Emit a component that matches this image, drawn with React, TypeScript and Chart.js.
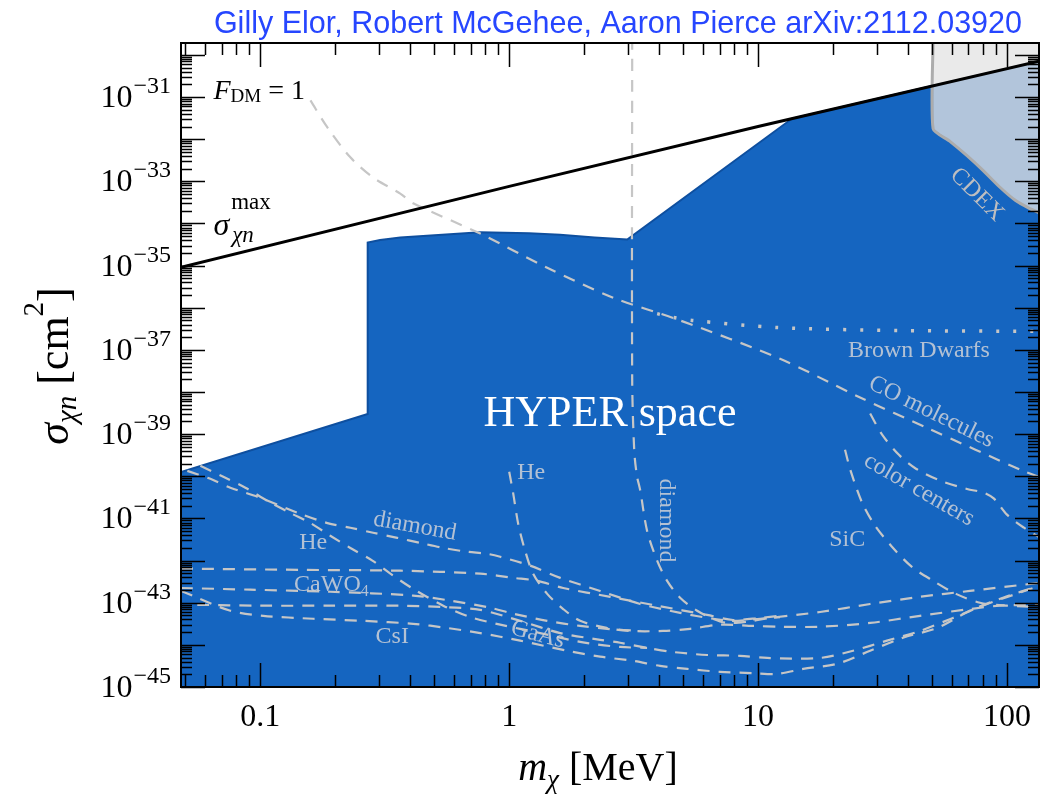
import React, { useEffect, useRef } from 'react';
import { Chart, registerables } from 'chart.js';

Chart.register(...registerables);

// ---------- axis ranges ----------
const X_MIN = 0.048;
const X_MAX = 134.5;
const Y_MIN = 1e-45;
const Y_MAX = 1.92e-30;

// ---------- tick labels ----------
const xTickValues = [0.1, 1, 10, 100];
const xTickLabels = ['0.1', '1', '10', '100'];
const yTickExponents = [-31, -33, -35, -37, -39, -41, -43, -45];

const titleText = 'Gilly Elor, Robert McGehee, Aaron Pierce arXiv:2112.03920';

// ---------- data: x = m_chi [MeV], e = log10(sigma [cm^2]) ----------
const sigmaMaxX = [0.048, 1, 10, 134.5];
const sigmaMaxE = [-35.04, -33.12, -31.7, -30.15];

const hyperX = [0.048, 0.048, 0.27, 0.27, 0.303, 0.365, 0.765, 1.2, 1.6, 2.2, 2.98, 13.7, 50.5, 134.5, 134.5];
const hyperE = [-45, -39.9, -38.52, -34.45, -34.39, -34.33, -34.21, -34.23, -34.27, -34.33, -34.38, -31.51, -30.73, -30.15, -45];

const cdexX = [50.5, 50.5, 59, 69.1, 80.1, 93.7, 108, 123, 134.5, 134.5];
const cdexE = [-29.6, -31.75, -32.05, -32.39, -32.74, -33.14, -33.45, -33.64, -33.74, -29.6];

const cdexEdgeX = [50.5, 50.5, 59, 69.1, 80.1, 93.7, 108, 123, 134.5];
const cdexEdgeE = [-29.6, -31.75, -32.05, -32.39, -32.74, -33.14, -33.45, -33.64, -33.74];

const fdmX = [0.159, 0.186, 0.23, 0.284, 0.365, 0.411, 0.765, 1.421, 2.616, 4.86, 12.25, 25.7, 47.7, 115.9, 134.5];
const fdmE = [-31.08, -31.72, -32.43, -32.91, -33.29, -33.52, -34.24, -35.05, -35.76, -36.3, -37.21, -38.13, -38.85, -39.87, -40.01];

const brownX = [3.93, 4.56, 5.43, 12.03, 37.2, 134.5];
const brownE = [-36.14, -36.23, -36.3, -36.47, -36.54, -36.56];

const diamondX = [3.12, 3.12, 3.18, 3.26, 3.36, 3.58, 3.93, 4.31, 4.86, 5.69, 6.59, 7.51, 9.03, 11.17, 17.75, 28.2, 44.7, 71.0, 134.5];
const diamondE = [-29.6, -37.73, -39.39, -39.99, -40.33, -41.29, -42.0, -42.48, -42.88, -43.19, -43.38, -43.48, -43.45, -43.36, -43.22, -43.03, -42.86, -42.72, -42.53];

const heX = [1.0, 1.038, 1.087, 1.159, 1.248, 1.421, 1.648, 1.928, 2.475, 3.06, 4.15, 5.33, 7.04, 9.55, 12.25, 17.75, 28.2, 44.7, 71.0, 93.7, 134.5];
const heE = [-39.89, -40.41, -41.13, -41.77, -42.31, -42.79, -43.15, -43.43, -43.6, -43.67, -43.67, -43.62, -43.52, -43.55, -43.57, -43.57, -43.48, -43.31, -43.15, -43.07, -43.05];

const sicX = [22.35, 23.6, 26.2, 29.5, 34.5, 41.5, 50.5, 62.4, 77.9, 100, 134.5];
const sicE = [-39.37, -39.89, -40.63, -41.17, -41.67, -42.15, -42.48, -42.79, -43.0, -43.07, -43.1];

const colorCentersX = [28.2, 31.5, 36.8, 43.1, 53.8, 69.1, 80.9, 88.7, 100, 117, 134.5];
const colorCentersE = [-38.51, -39.01, -39.49, -39.82, -40.1, -40.3, -40.39, -40.53, -40.91, -41.22, -41.44];

const diamondLowX = [0.0509, 0.063, 0.0758, 0.1, 0.1448, 0.186, 0.23, 0.284, 0.355, 0.439, 0.543, 0.678, 0.816, 0.92, 1.214, 1.603, 2.32, 3.36, 4.86, 6.59, 7.94, 10.19, 12.25];
const diamondLowE = [-39.87, -40.06, -40.27, -40.51, -40.89, -41.11, -41.22, -41.34, -41.46, -41.58, -41.7, -41.79, -41.84, -41.91, -42.12, -42.41, -42.72, -43.03, -43.24, -43.38, -43.43, -43.38, -43.34];

const heLowX = [0.0574, 0.071, 0.0871, 0.1067, 0.132, 0.159, 0.191, 0.23, 0.282, 0.333, 0.411, 0.543, 0.697, 0.92, 1.332, 1.928, 2.79, 3.58];
const heLowE = [-39.75, -40.01, -40.27, -40.58, -40.87, -41.11, -41.41, -41.7, -42.0, -42.31, -42.67, -43.07, -43.34, -43.52, -43.72, -43.93, -44.05, -44.07];

const caWO4UpperX = [0.048, 0.1448, 0.365, 0.765, 1.038, 1.295, 1.648, 2.545, 3.93, 6.24, 7.94, 10.19, 12.25];
const caWO4UpperE = [-42.19, -42.22, -42.24, -42.31, -42.41, -42.48, -42.65, -42.86, -43.07, -43.29, -43.41, -43.36, -43.31];

const caWO4LowerX = [0.048, 0.0912, 0.191, 0.411, 0.579, 0.839, 1.038, 1.421, 1.928, 2.475, 3.36];
const caWO4LowerE = [-42.65, -42.69, -42.74, -42.83, -42.95, -43.12, -43.26, -43.43, -43.55, -43.62, -43.67];

const gaAsX = [0.0558, 0.1, 0.191, 0.365, 0.528, 0.765, 1.107, 1.603, 2.32, 2.79, 3.58, 4.56, 6.24, 8.47, 10.87, 17.75, 24.07, 32.96, 44.7, 60.7, 83.2, 112.8, 134.5];
const gaAsE = [-43.05, -43.07, -43.07, -43.07, -43.1, -43.17, -43.43, -43.72, -43.88, -43.95, -44.07, -44.17, -44.24, -44.26, -44.31, -44.31, -44.14, -43.9, -43.67, -43.36, -43.03, -42.76, -42.6];

const csIX = [0.048, 0.0558, 0.0758, 0.1028, 0.163, 0.259, 0.411, 0.564, 0.765, 1.107, 1.71, 2.32, 3.15, 4.04, 5.19, 7.04, 9.55, 11.92, 15.17, 20.77, 28.2, 38.2, 52.4, 71.0, 96.4, 134.5];
const csIE = [-42.72, -42.88, -43.19, -43.31, -43.38, -43.43, -43.5, -43.6, -43.72, -43.9, -44.14, -44.28, -44.38, -44.5, -44.57, -44.64, -44.67, -44.69, -44.57, -44.45, -44.14, -43.83, -43.6, -43.19, -42.88, -42.6];

// ---------- annotation text (anchored in data units) ----------
const plotLabels = [
  { text: 'HYPER space', x: 2.54, e: -38.47, size: 44, angle: 0, color: '#ffffff' },
  { text: 'Brown Dwarfs', x: 44.3, e: -36.99, size: 24, angle: 0 },
  { text: 'CO molecules', x: 50.0, e: -38.44, size: 24, angle: 26 },
  { text: 'color centers', x: 44.7, e: -40.29, size: 24, angle: 30 },
  { text: 'SiC', x: 22.8, e: -41.46, size: 24, angle: 0 },
  { text: 'diamond', x: 4.35, e: -41.05, size: 24, angle: 90 },
  { text: 'He', x: 1.226, e: -39.87, size: 24, angle: 0 },
  { text: 'diamond', x: 0.419, e: -41.15, size: 24, angle: 10 },
  { text: 'He', x: 0.163, e: -41.53, size: 24, angle: 0 },
  { text: 'CsI', x: 0.339, e: -43.76, size: 24, angle: 0 },
  { text: 'GaAs', x: 1.307, e: -43.72, size: 24, angle: 15 },
  { text: 'CDEX', x: 76.5, e: -33.29, size: 24, angle: 45, color: 'rgb(190,190,192)' },
];
const caWO4Label = { x: 0.193, e: -42.53, size: 24 };
const fdmLabel = { x: 0.0648, e: -31.04 };
const sigmaLabel = { x: 0.0648, e: -34.285 };

// ---------- styles ----------
const SERIF = '"Liberation Serif", "Times New Roman", Times, serif';
const fnt = (size: number, italic = false) => `${italic ? 'italic ' : ''}${size}px ${SERIF}`;
const DASH_COLOR = 'rgb(198,198,198)';
const LABEL_COLOR = 'rgba(205,208,215,0.86)';

const toPts = (xs: number[], es: number[]) => xs.map((x, i) => ({ x, y: Math.pow(10, es[i]) }));

const dashed = (label: string, xs: number[], es: number[]) => ({
  label,
  data: toPts(xs, es),
  showLine: true,
  borderColor: DASH_COLOR,
  borderWidth: 2.2,
  borderDash: [12, 9],
  pointRadius: 0,
  fill: false,
  tension: 0.3,
  order: 5,
});

type Seg = { t: string; f: string; dy?: number };

function drawSegs(ctx: CanvasRenderingContext2D, segs: Seg[], x: number, y: number, align: 'left' | 'center') {
  let w = 0;
  for (const s of segs) {
    ctx.font = s.f;
    w += ctx.measureText(s.t).width;
  }
  let cx = align === 'left' ? x : x - w / 2;
  ctx.textAlign = 'left';
  ctx.textBaseline = 'alphabetic';
  for (const s of segs) {
    ctx.font = s.f;
    ctx.fillText(s.t, cx, y + (s.dy || 0));
    cx += ctx.measureText(s.t).width;
  }
}

const overlayPlugin = {
  id: 'overlay',
  afterDraw(chart: any) {
    const { ctx, chartArea: a, scales } = chart;
    const xs = scales.x;
    const ys = scales.y;
    const px = (v: number) => xs.getPixelForValue(v);
    const py = (e: number) => ys.getPixelForValue(Math.pow(10, e));
    ctx.save();

    // in-plot labels
    for (const l of plotLabels) {
      ctx.save();
      ctx.translate(px(l.x), py(l.e));
      ctx.rotate((l.angle * Math.PI) / 180);
      ctx.font = fnt(l.size);
      ctx.fillStyle = l.color || LABEL_COLOR;
      ctx.textAlign = 'center';
      ctx.textBaseline = 'alphabetic';
      ctx.fillText(l.text, 0, l.size * 0.33);
      ctx.restore();
    }
    ctx.fillStyle = LABEL_COLOR;
    drawSegs(
      ctx,
      [
        { t: 'CaWO', f: fnt(caWO4Label.size) },
        { t: '4', f: fnt(16), dy: 5 },
      ],
      px(caWO4Label.x),
      py(caWO4Label.e) + caWO4Label.size * 0.33,
      'center'
    );

    // F_DM = 1
    ctx.fillStyle = '#000';
    drawSegs(
      ctx,
      [
        { t: 'F', f: fnt(28, true) },
        { t: 'DM', f: fnt(19), dy: 3.5 },
        { t: ' = 1', f: fnt(28) },
      ],
      px(fdmLabel.x),
      py(fdmLabel.e),
      'left'
    );

    // sigma max label
    {
      const sx = px(sigmaLabel.x);
      const sy = py(sigmaLabel.e);
      ctx.textAlign = 'left';
      ctx.textBaseline = 'alphabetic';
      ctx.font = fnt(32, true);
      ctx.fillText('σ', sx, sy);
      const w = ctx.measureText('σ').width;
      ctx.font = fnt(23);
      ctx.fillText('max', sx + w + 2, sy - 26);
      ctx.font = fnt(23, true);
      ctx.fillText('χn', sx + w + 3, sy + 7);
    }

    // frame
    ctx.strokeStyle = '#000';
    ctx.lineWidth = 2;
    ctx.strokeRect(a.left, a.top, a.right - a.left, a.bottom - a.top);

    // ticks (inward, all four sides)
    ctx.lineWidth = 1.5;
    ctx.beginPath();
    for (let d = -2; d <= 2; d++) {
      for (let k = 1; k <= 9; k++) {
        const v = k * Math.pow(10, d);
        if (v < X_MIN || v > X_MAX) continue;
        const x = Math.round(px(v)) + 0.5;
        const len = k === 1 ? 24 : 12;
        ctx.moveTo(x, a.bottom);
        ctx.lineTo(x, a.bottom - len);
        ctx.moveTo(x, a.top);
        ctx.lineTo(x, a.top + len);
      }
    }
    for (let d = -46; d <= -29; d++) {
      for (let k = 1; k <= 9; k++) {
        const v = k * Math.pow(10, d);
        if (v < Y_MIN * 0.999 || v > Y_MAX) continue;
        const y = Math.round(ys.getPixelForValue(v)) + 0.5;
        const len = k === 1 ? 24 : 11;
        ctx.moveTo(a.left, y);
        ctx.lineTo(a.left + len, y);
        ctx.moveTo(a.right, y);
        ctx.lineTo(a.right - len, y);
      }
    }
    ctx.stroke();

    // x tick labels
    ctx.fillStyle = '#000';
    ctx.font = fnt(32);
    ctx.textAlign = 'center';
    ctx.textBaseline = 'alphabetic';
    xTickValues.forEach((v, i) => {
      ctx.fillText(xTickLabels[i], px(v), a.bottom + 39);
    });

    // y tick labels 10^{e}
    for (const e of yTickExponents) {
      const y = py(e);
      const sup = '\u2212' + String(-e);
      ctx.font = fnt(24);
      const supW = ctx.measureText(sup).width;
      ctx.font = fnt(32);
      const baseW = ctx.measureText('10').width;
      const right = a.left - 10;
      ctx.textAlign = 'left';
      ctx.font = fnt(32);
      ctx.fillText('10', right - supW - baseW - 1, y + 10);
      ctx.font = fnt(24);
      ctx.fillText(sup, right - supW, y - 4);
    }

    // x axis title
    drawSegs(
      ctx,
      [
        { t: 'm', f: fnt(40, true) },
        { t: 'χ', f: fnt(27, true), dy: 8 },
        { t: ' [MeV]', f: fnt(40) },
      ],
      598,
      780,
      'center'
    );

    // y axis title (rotated)
    ctx.save();
    ctx.translate(68, (a.top + a.bottom) / 2 + 1);
    ctx.rotate(-Math.PI / 2);
    drawSegs(
      ctx,
      [
        { t: 'σ', f: fnt(44, true) },
        { t: 'χn', f: fnt(29, true), dy: 8 },
        { t: ' [cm', f: fnt(44) },
        { t: '2', f: fnt(29), dy: -25 },
        { t: ']', f: fnt(44) },
      ],
      0,
      0,
      'center'
    );
    ctx.restore();

    // top title
    ctx.font = '30.5px "Liberation Sans", Arial, Helvetica, sans-serif';
    ctx.fillStyle = 'rgb(38,70,255)';
    ctx.textAlign = 'right';
    ctx.textBaseline = 'alphabetic';
    ctx.fillText(titleText, 1022, 33);

    ctx.restore();
  },
};

export default function App() {
  const ref = useRef<HTMLCanvasElement>(null);

  useEffect(() => {
    const canvas = ref.current;
    if (!canvas) return;
    const datasets: any[] = [
      {
        label: 'HYPER space',
        data: toPts(hyperX, hyperE),
        showLine: true,
        fill: 'shape',
        backgroundColor: '#1565C0',
        borderColor: '#0e4f9f',
        borderWidth: 2,
        pointRadius: 0,
        tension: 0,
        order: 20,
      },
      {
        label: 'CDEX',
        data: toPts(cdexX, cdexE),
        showLine: true,
        fill: 'shape',
        backgroundColor: 'rgba(228,228,228,0.76)',
        borderWidth: 0,
        pointRadius: 0,
        tension: 0,
        order: 19,
      },
      {
        label: 'CDEX edge',
        data: toPts(cdexEdgeX, cdexEdgeE),
        showLine: true,
        fill: false,
        borderColor: 'rgb(172,172,172)',
        borderWidth: 3,
        pointRadius: 0,
        tension: 0.2,
        order: 18,
      },
      dashed('F_DM = 1', fdmX, fdmE),
      dashed('diamond', diamondX, diamondE),
      dashed('He', heX, heE),
      dashed('SiC', sicX, sicE),
      dashed('color centers', colorCentersX, colorCentersE),
      dashed('diamond (low)', diamondLowX, diamondLowE),
      dashed('He (low)', heLowX, heLowE),
      dashed('CaWO4 upper', caWO4UpperX, caWO4UpperE),
      dashed('CaWO4 lower', caWO4LowerX, caWO4LowerE),
      dashed('GaAs', gaAsX, gaAsE),
      dashed('CsI', csIX, csIE),
      {
        label: 'Brown Dwarfs',
        data: toPts(brownX, brownE),
        showLine: true,
        fill: false,
        borderColor: DASH_COLOR,
        borderWidth: 3.5,
        borderDash: [3, 14],
        pointRadius: 0,
        tension: 0.3,
        order: 5,
      },
      {
        label: 'sigma max',
        data: toPts(sigmaMaxX, sigmaMaxE),
        showLine: true,
        fill: false,
        borderColor: '#000',
        borderWidth: 3,
        pointRadius: 0,
        tension: 0,
        order: 1,
      },
    ];

    const chart = new Chart(canvas, {
      type: 'scatter',
      data: { datasets },
      options: {
        animation: false,
        responsive: false,
        devicePixelRatio: 1,
        events: [],
        layout: { padding: { left: 181, right: 16, top: 43, bottom: 114 } },
        elements: { point: { radius: 0, hoverRadius: 0 } },
        plugins: { legend: { display: false }, tooltip: { enabled: false }, title: { display: false } },
        scales: {
          x: { type: 'logarithmic', min: X_MIN, max: X_MAX, bounds: 'data', display: false },
          y: { type: 'logarithmic', min: Y_MIN, max: Y_MAX, bounds: 'data', display: false },
        },
      } as any,
      plugins: [overlayPlugin],
    });
    return () => chart.destroy();
  }, []);

  return (
    <div style={{ position: 'fixed', left: 0, top: 0, width: 1055, height: 801, background: '#ffffff' }}>
      <canvas ref={ref} width={1055} height={801} style={{ display: 'block' }} />
    </div>
  );
}
